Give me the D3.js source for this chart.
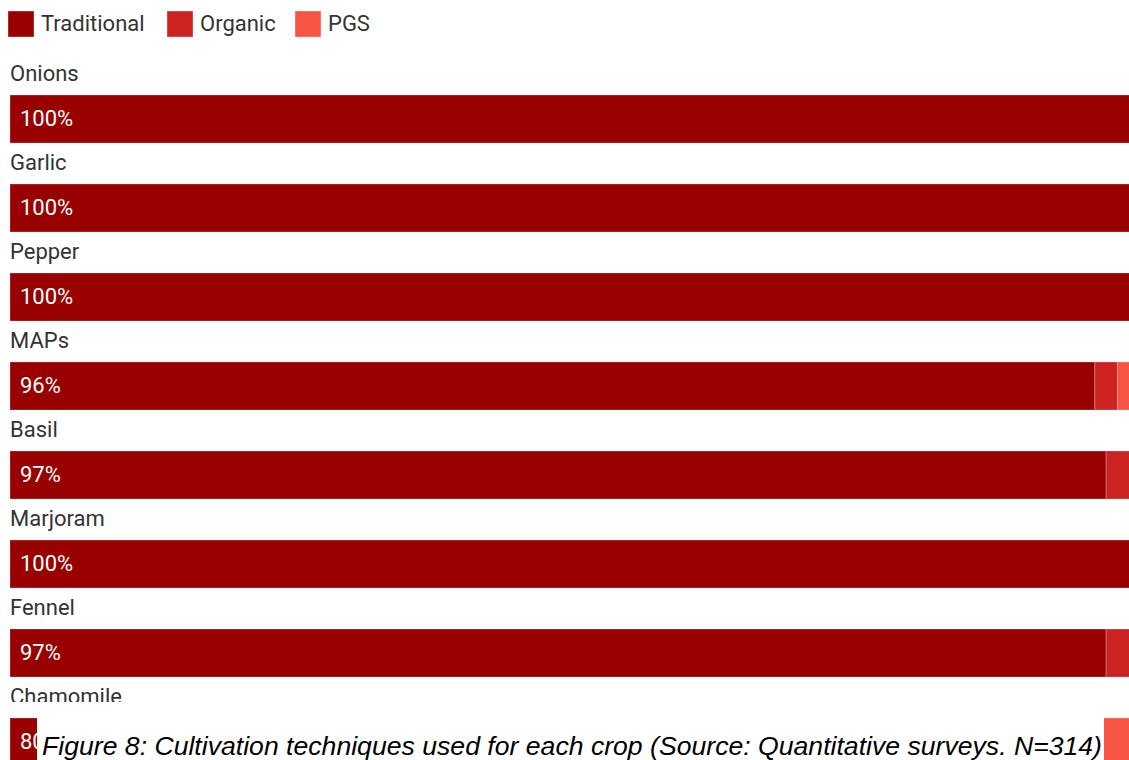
<!DOCTYPE html>
<html>
<head>
<meta charset="utf-8">
<script src="https://cdn.jsdelivr.net/npm/d3@7"></script>
<style>
  html, body { margin: 0; padding: 0; background: #fff; }
  svg { display: block; }
</style>
</head>
<body>
<svg id="chart" width="1129" height="760"></svg>
<script>
// Crops and the share (%) of each cultivation technique
const crops = ["Onions", "Garlic", "Pepper", "MAPs", "Basil", "Marjoram", "Fennel", "Chamomile"];
const traditional = [100, 100, 100, 96, 97, 100, 97, 80];
const organic     = [0, 0, 0, 2, 3, 0, 3, 13];
const pgs         = [0, 0, 0, 2, 0, 0, 0, 7];
const seriesNames = ["Traditional", "Organic", "PGS"];
const seriesColors = ["#990000", "#cc2222", "#f75444"];
const caption = "Figure 8: Cultivation techniques used for each crop (Source: Quantitative surveys. N=314)";

const svg = d3.select("#chart");
const W = 1129, H = 760;

const rows = crops.map((c, i) => ({ crop: c, Traditional: traditional[i], Organic: organic[i], PGS: pgs[i] }));
const stacked = d3.stack().keys(seriesNames)(rows);

const x = d3.scaleLinear().domain([0, 100]).range([10, 1140]);
const y = d3.scaleBand().domain(crops).range([95 - 41, 95 - 41 + 89 * crops.length]).paddingInner(0).paddingOuter(0);
const barTop = c => y(c) + 41;
const barH = 48;
const color = d3.scaleOrdinal().domain(seriesNames).range(seriesColors);
const FONT = "Roboto, sans-serif";

// Legend
const legend = svg.append("g").attr("class", "legend");
const legX = [8, 167, 295];
seriesNames.forEach((s, i) => {
  const g = legend.append("g").attr("transform", `translate(${legX[i]},11)`);
  g.append("rect").attr("width", 26).attr("height", 26).attr("fill", color(s))
    .attr("stroke", "#ffffff").attr("stroke-opacity", 0.35).attr("stroke-width", 1);
  g.append("text").attr("x", 33).attr("y", 20)
    .attr("font-family", FONT).attr("font-size", 22).attr("fill", "#333")
    .text(s);
});

// Crop labels above each bar
svg.append("g").selectAll("text").data(crops).join("text")
  .attr("x", 10).attr("y", d => barTop(d) - 14)
  .attr("font-family", FONT).attr("font-size", 22).attr("fill", "#333")
  .text(d => d);

// Label area ends above the last bar
svg.append("rect").attr("x", 0).attr("y", 702).attr("width", W).attr("height", 16).attr("fill", "#fff");

// Stacked bars
const layers = svg.append("g").selectAll("g").data(stacked).join("g")
  .attr("fill", d => color(d.key));
layers.selectAll("rect").data(d => d.filter(v => v[1] - v[0] > 0)).join("rect")
  .attr("x", d => x(d[0]))
  .attr("y", d => barTop(d.data.crop))
  .attr("width", d => x(d[1]) - x(d[0]))
  .attr("height", barH)
  .attr("stroke", "#ffffff").attr("stroke-opacity", 0.25).attr("stroke-width", 1);

// Traditional share printed inside each bar
svg.append("g").selectAll("text").data(rows).join("text")
  .attr("x", 20).attr("y", d => barTop(d.crop) + 31)
  .attr("font-family", FONT).attr("font-size", 22).attr("fill", "#fff")
  .text(d => d.Traditional + "%");

// Figure caption
svg.append("rect").attr("x", 37).attr("y", 718).attr("width", 1104 - 37).attr("height", H - 718).attr("fill", "#fff");
svg.append("text").attr("x", 42).attr("y", 755)
  .attr("font-family", "'Liberation Sans', Arial, sans-serif").attr("font-style", "italic")
  .attr("font-size", 26.5).attr("fill", "#000")
  .attr("textLength", 1060).attr("lengthAdjust", "spacingAndGlyphs")
  .text(caption);
</script>
</body>
</html>
